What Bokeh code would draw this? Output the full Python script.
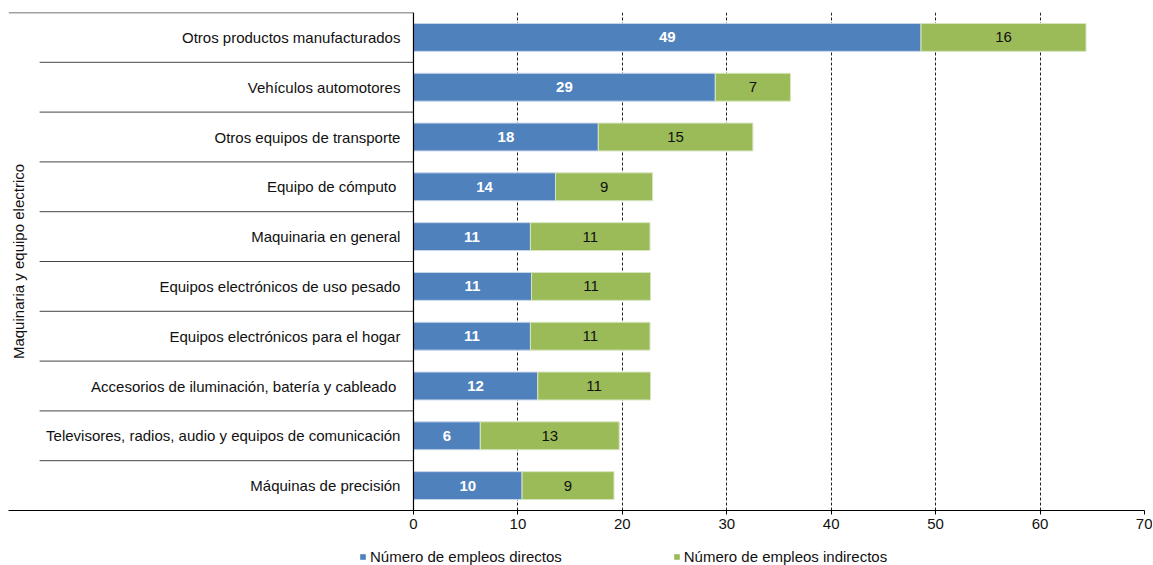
from bokeh.plotting import figure
from bokeh.models import ColumnDataSource, Range1d, FixedTicker, Span, Legend, LegendItem
from bokeh.layouts import column
from bokeh.core.properties import value
from bokeh.embed import file_html
from bokeh.resources import INLINE
import math

categories = [
    "Otros productos manufacturados",
    "Vehículos automotores",
    "Otros equipos de transporte",
    "Equipo de cómputo ",
    "Maquinaria en general",
    "Equipos electrónicos de uso pesado",
    "Equipos electrónicos para el hogar",
    "Accesorios de iluminación, batería y cableado ",
    "Televisores, radios, audio y equipos de comunicación",
    "Máquinas de precisión",
]
directos = [48.6, 28.9, 17.7, 13.6, 11.2, 11.3, 11.2, 11.9, 6.4, 10.4]
indirectos = [15.8, 7.2, 14.8, 9.3, 11.45, 11.4, 11.45, 10.8, 13.3, 8.8]
group_label = "Maquinaria y equipo electrico"
series_names = ["Número de empleos directos", "Número de empleos indirectos"]
x_ticks = [0, 10, 20, 30, 40, 50, 60, 70]

BLUE = "#4F81BD"
GREEN = "#9BBB59"
FONT = "Liberation Sans"

n = len(categories)
ypos = [n - 1 - i for i in range(n)]  # first category at top

src = ColumnDataSource(dict(
    y=ypos,
    cat=categories,
    d=directos,
    i=indirectos,
    tot=[a + b for a, b in zip(directos, indirectos)],
    dmid=[a / 2 for a in directos],
    imid=[a + b / 2 for a, b in zip(directos, indirectos)],
    dlab=[str(int(round(v))) for v in directos],
    ilab=[str(int(round(v))) for v in indirectos],
))

p = figure(width=1152, height=535, output_backend="svg", toolbar_location=None,
           title=None, x_range=Range1d(-38.78, 70), y_range=Range1d(-0.5, n - 0.5),
           min_border_left=8, min_border_right=8, min_border_top=12, min_border_bottom=25)
p.outline_line_color = None
p.background_fill_color = "white"
p.border_fill_color = "white"

# grid
p.ygrid.grid_line_color = None
p.xgrid.ticker = FixedTicker(ticks=x_ticks[1:])
p.xgrid.grid_line_color = "#222222"
p.xgrid.grid_line_dash = "3 2"
p.xgrid.grid_line_width = 1

# axes
p.yaxis.visible = False
p.xaxis.ticker = FixedTicker(ticks=x_ticks)
p.xaxis.axis_line_color = "black"
p.xaxis.axis_line_width = 1.2
p.xaxis.major_tick_line_color = "black"
p.xaxis.major_tick_out = 4
p.xaxis.major_tick_in = 0
p.xaxis.minor_tick_line_color = None
p.xaxis.major_label_standoff = 4
p.xaxis.major_label_text_font = FONT
p.xaxis.major_label_text_font_size = "15px"
p.xaxis.major_label_text_color = "#111111"

# vertical axis line at zero
p.add_layout(Span(location=0, dimension="height", line_color="black", line_width=1.2))

# separators between categories (left area)
sep_y = [y + 0.5 for y in range(n - 1)]
p.segment(x0=[-35.8] * len(sep_y), x1=[0] * len(sep_y), y0=sep_y, y1=sep_y,
          line_color="#444444", line_width=1)
p.segment(x0=[-38.78], x1=[0], y0=[n - 0.5], y1=[n - 0.5], line_color="#444444", line_width=1.5)

# bars
p.hbar(y="y", left=0, right="d", height=0.56, source=src, fill_color=BLUE,
       line_color="#c9d6ea", line_width=1)
p.hbar(y="y", left="d", right="tot", height=0.56, source=src, fill_color=GREEN,
       line_color="#d8e6c2", line_width=1)

# bar labels
p.text(x="dmid", y="y", text="dlab", source=src, text_align="center", text_baseline="middle",
       text_color="white", text_font=value(FONT), text_font_size="15px", text_font_style="bold")
p.text(x="imid", y="y", text="ilab", source=src, text_align="center", text_baseline="middle",
       text_color="#111111", text_font=value(FONT), text_font_size="15px")

# category labels
p.text(x=-1.25, y="y", text="cat", source=src, text_align="right", text_baseline="middle",
       text_color="#111111", text_font=value(FONT), text_font_size="15px")

# group label (rotated)
p.text(x=[-37.8], y=[(n - 1) / 2], text=[group_label], angle=math.pi / 2,
       text_align="center", text_baseline="middle", text_color="#111111",
       text_font=value(FONT), text_font_size="15px")

# legend strip below the chart (proxy glyphs lie far outside the visible range)
lf = figure(width=1152, height=30, output_backend="svg", toolbar_location=None, title=None,
            x_range=Range1d(0, 1), y_range=Range1d(0, 1),
            min_border_left=0, min_border_right=0, min_border_top=0, min_border_bottom=0)
lf.axis.visible = False
lf.grid.grid_line_color = None
lf.outline_line_color = None
lb = lf.hbar(y=[50], left=[50], right=[51], height=0.5, fill_color=BLUE, line_color=None)
lg = lf.hbar(y=[50], left=[50], right=[51], height=0.5, fill_color=GREEN, line_color=None)
legend = Legend(items=[LegendItem(label=series_names[0], renderers=[lb]),
                       LegendItem(label=series_names[1], renderers=[lg])],
                orientation="horizontal", location=(351, 0),
                glyph_width=7, glyph_height=7, label_standoff=4, spacing=111,
                padding=0, margin=0, border_line_color=None, background_fill_alpha=0,
                label_text_font=FONT, label_text_font_size="15px", label_text_color="#111111",
                label_height=15)
lf.add_layout(legend, "center")

layout = column(p, lf, spacing=0)
open("out.html", "w").write(file_html(layout, INLINE))
